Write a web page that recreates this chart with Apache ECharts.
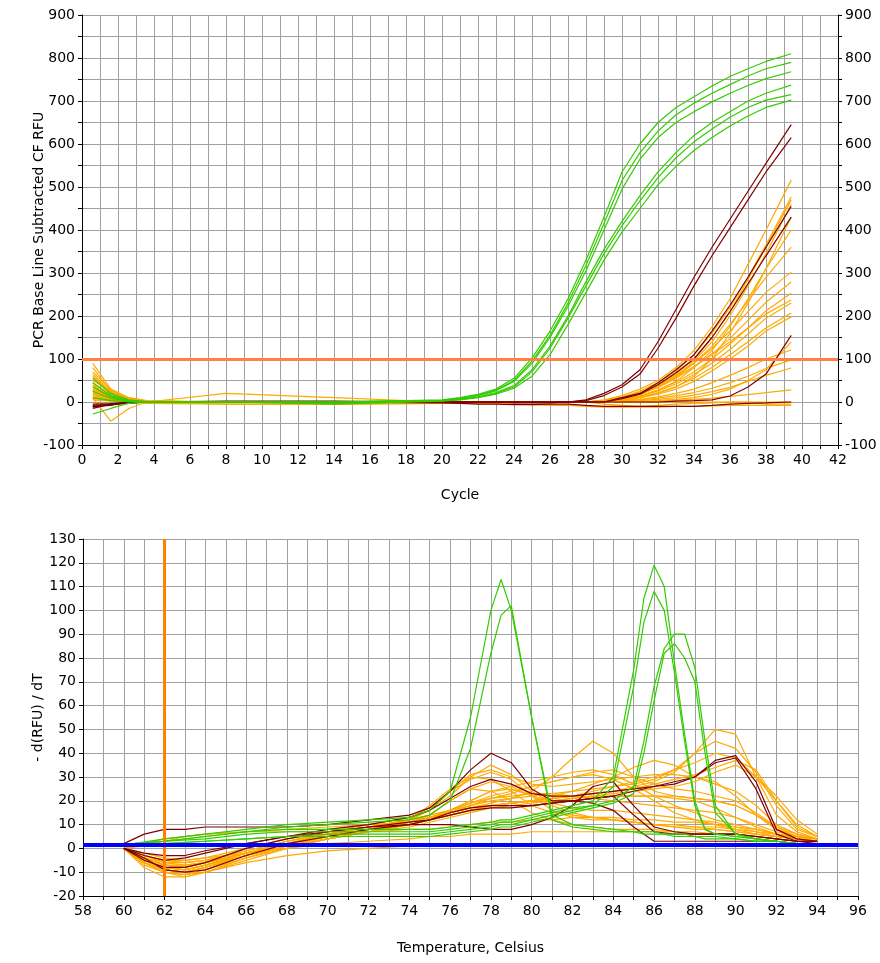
<!DOCTYPE html>
<html>
<head>
<meta charset="utf-8">
<title>PCR amplification and melt curves</title>
<script src="https://cdn.jsdelivr.net/npm/echarts@6/dist/echarts.min.js"></script>
<style>
  html, body { margin: 0; padding: 0; background: #fff; }
  #chart { width: 880px; height: 963px; }
</style>
</head>
<body>
<div id="chart"></div>
<script>
// ---- amplification (top) ----
var CYCLES = [0.6, 1.6, 2.6, 3.6, 8, 14, 20, 21, 22, 23, 24, 25, 26, 27, 28, 29, 30, 31, 32, 33, 34, 35, 36, 37, 38, 39.4];
var THRESHOLD = 100;

var AMP_GREEN = [
  [55, 20, 5, 1, 0, 0, 5, 10, 18, 30, 55, 102, 165, 240, 330, 430, 535, 600, 650, 685, 710, 735, 757, 775, 792, 810],
  [45, 15, 3, 0, 0, 0, 4, 9, 16, 28, 50, 95, 155, 230, 318, 415, 515, 580, 630, 668, 695, 718, 738, 758, 775, 790],
  [35, 12, 3, 0, 0, 0, 4, 8, 15, 26, 48, 90, 150, 222, 305, 400, 495, 565, 615, 650, 675, 698, 718, 736, 752, 768],
  [-28, -15, -3, 0, 0, 0, 3, 6, 12, 22, 38, 75, 130, 200, 280, 355, 420, 480, 535, 580, 620, 650, 675, 700, 718, 737],
  [25, 8, 2, 0, 0, -3, 3, 6, 11, 20, 35, 70, 125, 195, 270, 345, 410, 468, 522, 568, 605, 635, 662, 685, 702, 715],
  [10, 3, 1, 0, 0, -5, 2, 5, 10, 18, 32, 60, 110, 180, 255, 330, 395, 450, 505, 548, 585, 615, 642, 665, 685, 702]
];

var AMP_DARKRED = [
  [-10, -8, 0, 0, 0, 0, 0, 0, 0, 0, 0, 0, 0, 0, 5, 20, 40, 75, 140, 215, 290, 360, 425, 490, 555, 645],
  [-15, -5, -2, 0, 0, 0, 0, 0, 0, 0, 0, 0, 0, 0, 3, 15, 35, 65, 125, 195, 270, 340, 405, 470, 535, 615],
  [-12, -5, -3, 0, 2, 2, 0, 0, 0, 0, -2, -2, -2, 0, 0, 0, 10, 20, 45, 75, 110, 165, 225, 290, 360, 455],
  [-8, -6, -2, 0, 0, 0, 0, 0, 0, 0, 0, 0, 0, 0, 0, 0, 8, 18, 40, 68, 100, 150, 210, 275, 340, 430],
  [-5, -4, -1, 0, 0, 0, 0, 0, 0, 0, 0, 0, 0, 0, 0, 0, 0, 0, 0, 2, 3, 5, 14, 35, 65, 155],
  [-10, -5, 0, 0, 0, 0, -2, -3, -5, -5, -6, -6, -5, -5, -8, -10, -10, -10, -10, -10, -10, -8, -5, -3, -2, 0]
];

var AMP_ORANGE = [
  [90, 30, 10, 2, 0, 0, 0, 0, 0, 0, 0, 0, 0, 0, 0, 5, 15, 30, 50, 80, 120, 175, 240, 320, 400, 516],
  [80, 25, 8, 2, 0, 0, 0, 0, 0, 0, 0, 0, 0, 0, 0, 4, 12, 25, 45, 72, 110, 160, 220, 290, 365, 477],
  [70, 28, 8, 1, 0, 0, 0, 0, 0, 0, 0, 0, 0, 0, 0, 3, 10, 22, 40, 65, 100, 150, 210, 285, 360, 470],
  [65, 22, 6, 1, 0, 0, 0, 0, 0, 0, 0, 0, 0, 0, 0, 2, 8, 18, 35, 60, 95, 140, 200, 270, 345, 460],
  [60, 20, 5, 0, 0, 0, 0, 0, 0, 0, 0, 0, 0, 0, 0, 2, 6, 14, 28, 48, 80, 120, 175, 240, 310, 400],
  [55, 18, 5, 0, 0, 0, 0, 0, 0, 0, 0, 0, 0, 0, 0, 2, 8, 18, 35, 58, 90, 130, 180, 235, 290, 360],
  [50, 25, 10, 3, 0, 0, 0, 0, 0, 0, 0, 0, 0, 0, 0, 3, 10, 22, 40, 62, 90, 125, 165, 210, 255, 302],
  [45, 15, 4, 0, 0, 0, 0, 0, 0, 0, 0, 0, 0, 0, 0, 2, 8, 18, 34, 55, 82, 112, 148, 190, 232, 279],
  [40, 12, 3, 0, 0, 0, 0, 0, 0, 0, 0, 0, 0, 0, 0, 2, 6, 14, 28, 46, 70, 100, 135, 172, 212, 253],
  [38, 14, 5, 1, 0, 0, 0, 0, 0, 0, 0, 0, 0, 0, 0, 3, 10, 22, 38, 58, 82, 110, 140, 172, 205, 237],
  [35, 10, 2, 0, 0, 0, 0, 0, 0, 0, 0, 0, 0, 0, 0, 2, 6, 14, 26, 42, 64, 90, 122, 158, 195, 230],
  [30, 12, 4, 0, 0, 0, 0, 0, 0, 0, 0, 0, 0, 0, 0, 2, 5, 12, 22, 36, 55, 80, 110, 140, 172, 207],
  [28, 8, 2, 0, 0, 0, 0, 0, 0, 0, 0, 0, 0, 0, 0, 1, 4, 10, 18, 30, 48, 72, 100, 130, 165, 198],
  [25, 10, 3, 0, 0, 0, 0, 0, 0, 0, 0, 0, 0, 0, 0, 1, 3, 6, 12, 20, 30, 45, 62, 80, 100, 121],
  [22, 6, 1, 0, 0, 0, 0, 0, 0, 0, 0, 0, 0, 0, 0, 0, 2, 5, 9, 15, 22, 32, 45, 60, 78, 98],
  [20, 5, 1, 0, 0, 0, 0, 0, 0, 0, 0, 0, 0, 0, 0, 0, 1, 3, 6, 10, 16, 24, 34, 48, 62, 79],
  [15, 8, 2, 0, 20, 10, 0, 0, 0, 0, 0, 0, 0, 0, 0, 0, 0, 1, 2, 4, 6, 9, 13, 17, 22, 28],
  [10, -45, -15, 0, 0, 0, 0, 0, 0, 0, 0, 0, 0, 0, 0, 0, 0, 0, 0, 0, 0, 0, 0, 0, 0, 0],
  [18, 5, 0, -3, -5, -5, -3, -3, -3, -4, -5, -6, -8, -8, -10, -12, -12, -12, -12, -10, -10, -9, -8, -8, -8, -8],
  [12, 4, 1, 0, 0, 0, 0, 0, 0, 0, 0, 0, 0, 0, 0, 0, 0, 1, 3, 6, 10, 18, 30, 50, 75, 140],
  [8, 3, 0, 0, 0, 0, 0, 0, 0, 0, 0, 0, 0, 0, 0, 1, 4, 10, 20, 35, 60, 100, 160, 230, 310, 430],
  [5, 2, 0, 0, -5, -5, -3, 0, 0, 0, 0, 0, 0, 0, 0, -5, -8, -10, -8, -5, -3, -2, 0, 0, -5, -5]
];

// ---- melt curve (bottom) ----
var MELT_BEGIN = 62;
var MELT_BASE = 1.5;

var TEMPS_G = [60.5, 62, 64, 66, 68, 70, 72, 74, 75, 76, 77, 78, 78.5, 79, 80, 81, 82, 83, 84, 85, 85.5, 86, 86.5, 87, 87.5, 88, 88.5, 89, 90, 91, 92, 93, 94];
var MELT_GREEN = [
  [2, 4, 6, 8, 10, 11, 12, 13, 16, 24, 55, 100, 113, 100, 55, 12, 9, 8, 7, 7, 6, 6, 6, 5, 5, 5, 4, 4, 4, 3, 3, 2, 2],
  [2, 3, 5, 7, 9, 10, 11, 12, 14, 20, 42, 82, 98, 102, 55, 14, 10, 9, 8, 7, 7, 7, 6, 6, 6, 5, 5, 5, 4, 3, 3, 2, 2],
  [2, 3, 5, 7, 8, 8, 8, 8, 8, 9, 10, 11, 12, 12, 14, 16, 18, 20, 30, 75, 105, 119, 110, 78, 48, 20, 8, 6, 5, 4, 3, 2, 2],
  [2, 3, 4, 6, 7, 7, 7, 7, 7, 8, 9, 10, 11, 11, 13, 15, 17, 18, 26, 68, 95, 108, 100, 74, 45, 18, 8, 6, 5, 4, 3, 2, 2],
  [1, 2, 3, 4, 5, 6, 6, 6, 6, 7, 8, 9, 10, 10, 12, 14, 16, 18, 20, 26, 45, 68, 84, 90, 90, 76, 45, 18, 6, 4, 3, 2, 2],
  [1, 2, 3, 4, 5, 5, 5, 5, 5, 6, 7, 8, 9, 9, 11, 13, 15, 17, 19, 23, 40, 62, 82, 86, 80, 70, 40, 15, 6, 4, 3, 2, 2]
];

var TEMPS = [60, 61, 62, 63, 64, 66, 68, 70, 72, 74, 75, 76, 77, 78, 79, 80, 81, 82, 83, 84, 85, 86, 87, 88, 89, 90, 91, 92, 93, 94];
var MELT_DARKRED = [
  [2, 6, 8, 8, 9, 9, 9, 10, 12, 14, 17, 24, 33, 40, 36, 25, 20, 20, 21, 22, 14, 7, 6, 6, 6, 6, 5, 4, 3, 3],
  [0, -3, -5, -4, -2, 2, 5, 8, 10, 13, 16, 21, 26, 29, 27, 23, 22, 22, 23, 24, 25, 26, 27, 30, 36, 38, 25, 6, 3, 2],
  [0, -5, -8, -8, -6, 0, 4, 7, 9, 11, 12, 14, 16, 17, 17, 18, 19, 20, 21, 22, 24, 26, 28, 30, 37, 39, 28, 8, 4, 3],
  [0, -2, -3, -3, -1, 2, 5, 7, 9, 10, 10, 10, 9, 8, 8, 10, 13, 18, 26, 28, 18, 9, 7, 6, 6, 6, 5, 4, 3, 3],
  [0, -4, -9, -10, -9, -3, 2, 5, 8, 10, 12, 15, 17, 18, 18, 18, 19, 20, 19, 16, 9, 3, 3, 3, 3, 3, 3, 3, 2, 2]
];

var MELT_ORANGE = [
  [0, -6, -9, -10, -8, -3, 2, 6, 9, 12, 16, 22, 30, 35, 31, 24, 19, 17, 16, 16, 15, 14, 13, 12, 11, 9, 7, 5, 4, 3],
  [0, -4, -6, -7, -6, -2, 3, 7, 10, 13, 17, 24, 29, 32, 29, 22, 16, 13, 12, 12, 11, 10, 10, 9, 9, 8, 6, 5, 4, 3],
  [0, -5, -8, -9, -7, -2, 2, 5, 8, 11, 14, 20, 25, 28, 26, 22, 20, 20, 21, 22, 22, 22, 22, 21, 20, 18, 14, 8, 5, 3],
  [0, -3, -5, -6, -5, -1, 3, 6, 9, 12, 16, 24, 31, 33, 30, 27, 26, 27, 28, 29, 30, 31, 31, 30, 28, 22, 14, 8, 5, 4],
  [0, -7, -10, -12, -10, -4, 1, 5, 8, 12, 18, 25, 30, 29, 24, 18, 15, 14, 13, 12, 11, 10, 9, 9, 8, 7, 6, 5, 4, 3],
  [0, -4, -7, -8, -6, -2, 2, 5, 8, 11, 13, 15, 17, 19, 21, 24, 30, 38, 45, 40, 30, 24, 22, 21, 20, 18, 14, 9, 5, 4],
  [0, -5, -8, -9, -7, -3, 1, 4, 7, 10, 12, 15, 18, 21, 23, 26, 28, 30, 32, 33, 30, 27, 25, 24, 22, 20, 15, 9, 6, 4],
  [0, -3, -5, -5, -4, 0, 4, 7, 9, 11, 13, 16, 19, 22, 24, 26, 28, 30, 31, 29, 25, 20, 15, 12, 10, 8, 7, 6, 5, 4],
  [0, -6, -9, -10, -8, -3, 1, 5, 8, 11, 13, 15, 17, 18, 19, 20, 21, 22, 23, 24, 26, 28, 32, 40, 50, 48, 30, 14, 7, 4],
  [0, -4, -7, -8, -6, -2, 2, 6, 9, 12, 14, 16, 18, 20, 21, 22, 23, 24, 25, 26, 27, 29, 33, 40, 45, 42, 32, 18, 8, 5],
  [0, -5, -8, -9, -7, -2, 2, 5, 8, 10, 12, 14, 16, 18, 19, 20, 21, 22, 24, 26, 28, 30, 33, 36, 40, 38, 30, 20, 10, 5],
  [0, -3, -6, -6, -5, -1, 3, 6, 8, 11, 13, 15, 17, 18, 19, 20, 21, 22, 23, 24, 25, 27, 29, 31, 34, 37, 33, 20, 9, 5],
  [0, -6, -10, -11, -9, -4, 0, 4, 7, 10, 12, 14, 16, 18, 19, 20, 20, 21, 22, 23, 24, 25, 26, 28, 32, 35, 30, 22, 12, 6],
  [0, 2, 4, 5, 6, 7, 8, 9, 10, 11, 13, 16, 19, 21, 22, 23, 23, 22, 21, 20, 19, 18, 17, 16, 15, 13, 10, 7, 5, 3],
  [0, -5, -9, -10, -8, -3, 1, 4, 7, 9, 11, 13, 15, 17, 18, 19, 20, 21, 22, 22, 22, 22, 21, 20, 17, 13, 9, 6, 4, 3],
  [0, 1, 3, 5, 6, 7, 7, 7, 7, 8, 8, 9, 10, 11, 11, 12, 12, 13, 13, 13, 12, 12, 11, 11, 10, 9, 8, 6, 4, 3],
  [0, -2, -4, -5, -4, -2, 0, 2, 3, 4, 5, 5, 6, 6, 6, 7, 7, 7, 7, 7, 7, 7, 7, 6, 6, 6, 5, 4, 3, 3],
  [0, -6, -10, -11, -10, -6, -3, -1, 0, 1, 2, 2, 2, 2, 2, 2, 2, 1, 1, 1, 1, 1, 1, 1, 1, 1, 1, 1, 1, 1],
  [0, -4, -7, -8, -6, -2, 2, 5, 8, 10, 12, 16, 20, 24, 25, 22, 18, 15, 13, 12, 11, 10, 9, 8, 8, 7, 6, 5, 4, 3],
  [0, -5, -8, -9, -7, -3, 1, 4, 7, 10, 12, 14, 16, 18, 19, 20, 22, 24, 27, 30, 34, 37, 35, 30, 27, 24, 18, 10, 6, 4],
  [0, -4, -7, -7, -6, -2, 2, 5, 8, 11, 13, 16, 20, 24, 26, 28, 30, 32, 33, 31, 27, 22, 18, 15, 12, 10, 8, 6, 5, 4],
  [0, -8, -12, -12, -10, -5, 0, 4, 8, 11, 14, 20, 25, 24, 20, 15, 12, 10, 9, 8, 8, 8, 7, 7, 6, 6, 5, 4, 3, 3]
];

var GREEN = '#33CC00';
var DARKRED = '#800000';
var ORANGE = '#FFAA00';
var FONT = 'DejaVu Sans';

function curve(xs, ys, color, xi, yi) {
  return {
    type: 'line',
    xAxisIndex: xi,
    yAxisIndex: yi,
    data: xs.map(function (x, i) { return [x, ys[i]]; }),
    symbol: 'none',
    silent: true,
    animation: false,
    lineStyle: { color: color, width: 1.2 },
    itemStyle: { color: color }
  };
}

function evenOnly(v) { return v % 2 === 0 ? String(v) : ''; }
function hundreds(v) { return v % 100 === 0 ? String(v) : ''; }

var labelStyle = { color: '#000', fontSize: 14, fontFamily: FONT };
var gridLine = { show: true, lineStyle: { color: '#A0A0A0', width: 1 } };
var blackLine = { show: true, onZero: false, lineStyle: { color: '#000', width: 1 } };
var tick = { show: true, length: 4, lineStyle: { color: '#000' } };

var series = [];
AMP_ORANGE.forEach(function (d) { series.push(curve(CYCLES, d, ORANGE, 0, 0)); });
AMP_DARKRED.forEach(function (d) { series.push(curve(CYCLES, d, DARKRED, 0, 0)); });
AMP_GREEN.forEach(function (d) { series.push(curve(CYCLES, d, GREEN, 0, 0)); });
MELT_ORANGE.forEach(function (d) { series.push(curve(TEMPS, d, ORANGE, 1, 2)); });
MELT_DARKRED.forEach(function (d) { series.push(curve(TEMPS, d, DARKRED, 1, 2)); });
MELT_GREEN.forEach(function (d) { series.push(curve(TEMPS_G, d, GREEN, 1, 2)); });

// threshold and melt reference lines
series.push({
  type: 'line', xAxisIndex: 0, yAxisIndex: 0, data: [], z: 5,
  markLine: { symbol: 'none', silent: true, animation: false, label: { show: false },
    lineStyle: { color: '#FF8040', width: 3, type: 'solid' }, data: [{ yAxis: THRESHOLD }] }
});
series.push({
  type: 'line', xAxisIndex: 1, yAxisIndex: 2, data: [], z: 5,
  markLine: { symbol: 'none', silent: true, animation: false, label: { show: false },
    data: [
      { xAxis: MELT_BEGIN, lineStyle: { color: '#FF8000', width: 3, type: 'solid' } },
      { yAxis: MELT_BASE, lineStyle: { color: '#0000FF', width: 4, type: 'solid' } }
    ] }
});

var chart = echarts.init(document.getElementById('chart'));
chart.setOption({
  backgroundColor: '#fff',
  animation: false,
  grid: [
    { left: 82, top: 15, width: 756, height: 430 },
    { left: 83, top: 539, width: 775, height: 357 }
  ],
  xAxis: [
    {
      gridIndex: 0, type: 'value', min: 0, max: 42, interval: 1,
      name: 'Cycle', nameLocation: 'middle', nameGap: 43, nameMoveOverlap: false, nameTextStyle: labelStyle,
      axisLine: blackLine, axisTick: tick,
      axisLabel: { formatter: evenOnly, margin: 8, color: '#000', fontSize: 14, fontFamily: FONT },
      splitLine: gridLine
    },
    {
      gridIndex: 1, type: 'value', min: 58, max: 96, interval: 1,
      name: 'Temperature, Celsius', nameLocation: 'middle', nameGap: 45, nameMoveOverlap: false, nameTextStyle: labelStyle,
      axisLine: blackLine, axisTick: tick,
      axisLabel: { formatter: evenOnly, margin: 8, color: '#000', fontSize: 14, fontFamily: FONT },
      splitLine: gridLine
    }
  ],
  yAxis: [
    {
      gridIndex: 0, type: 'value', min: -100, max: 900, interval: 50, position: 'left',
      name: 'PCR Base Line Subtracted CF RFU', nameLocation: 'middle', nameGap: 36, nameMoveOverlap: false, nameTextStyle: labelStyle,
      axisLine: blackLine, axisTick: tick,
      axisLabel: { formatter: hundreds, margin: 7, color: '#000', fontSize: 14, fontFamily: FONT },
      splitLine: gridLine
    },
    {
      gridIndex: 0, type: 'value', min: -100, max: 900, interval: 50, position: 'right',
      axisLine: blackLine, axisTick: tick,
      axisLabel: { formatter: hundreds, margin: 7, color: '#000', fontSize: 14, fontFamily: FONT },
      splitLine: { show: false }
    },
    {
      gridIndex: 1, type: 'value', min: -20, max: 130, interval: 10,
      name: '- d(RFU) / dT', nameLocation: 'middle', nameGap: 38, nameMoveOverlap: false, nameTextStyle: labelStyle,
      axisLine: blackLine, axisTick: tick,
      axisLabel: { margin: 7, color: '#000', fontSize: 14, fontFamily: FONT },
      splitLine: gridLine
    }
  ],
  series: series
});
</script>
</body>
</html>
